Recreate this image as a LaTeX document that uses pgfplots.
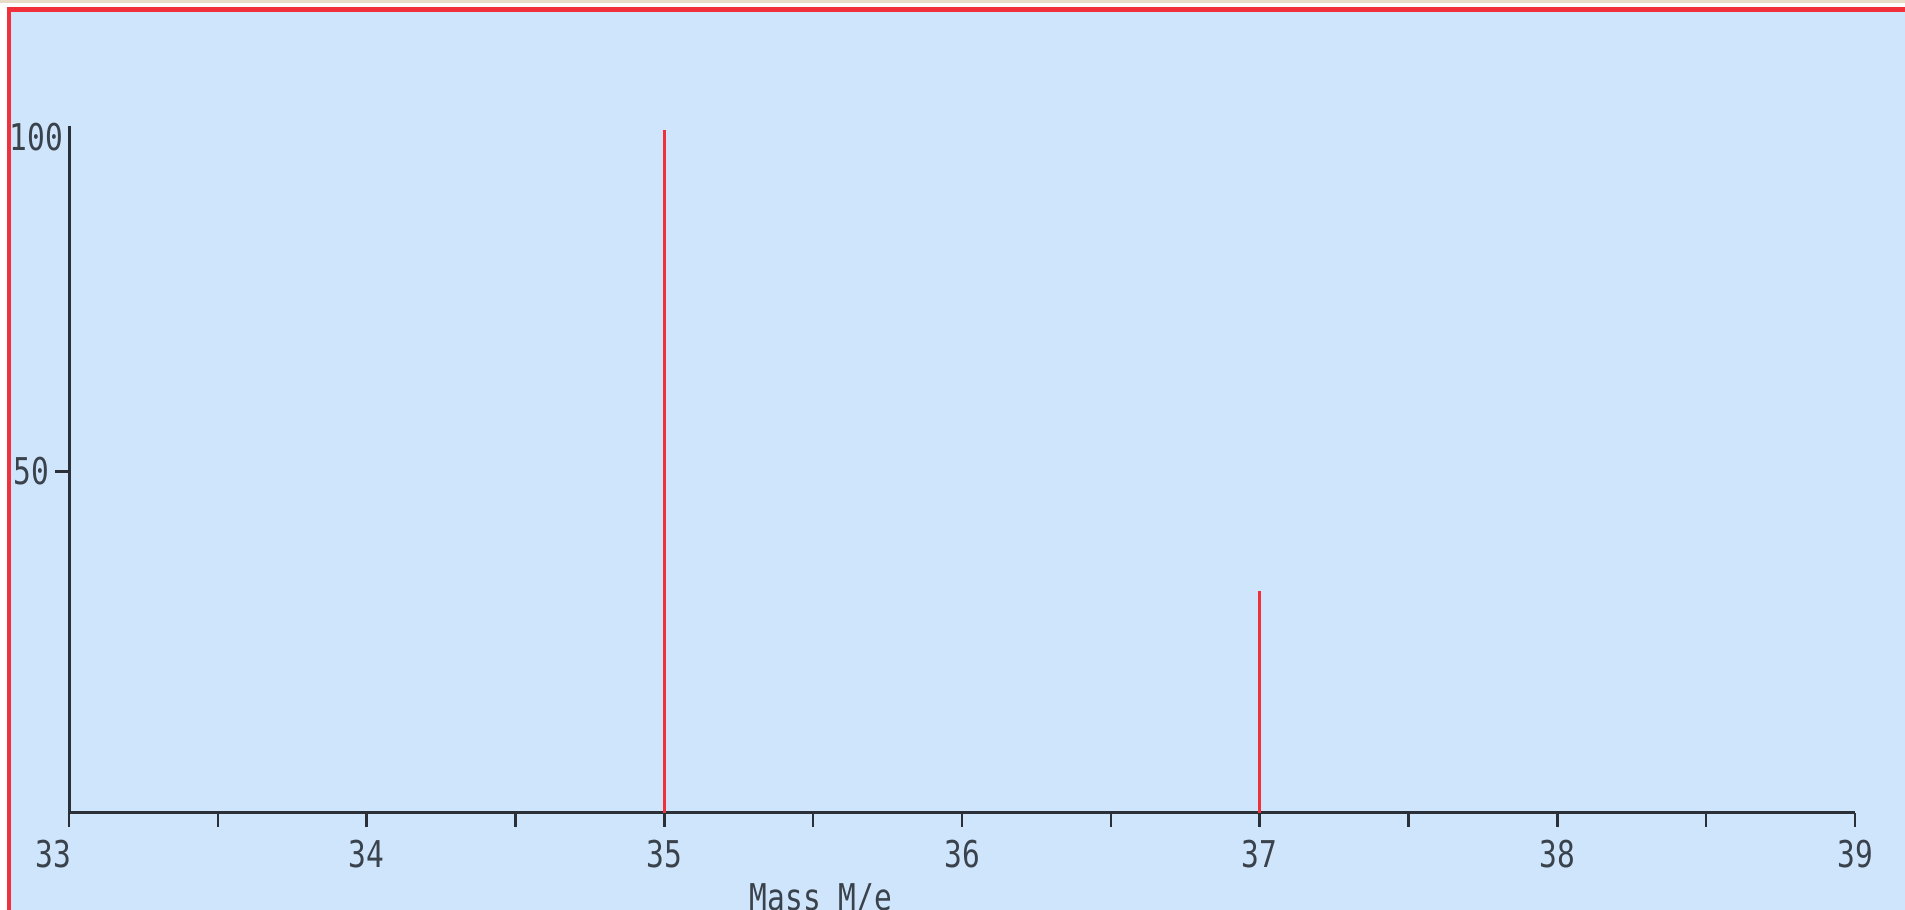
\documentclass[border=0pt]{standalone}
\usepackage{fontspec}
\setmainfont{DejaVu Sans Mono}[FakeStretch=0.8]
\usepackage{pgfplots}
\pgfplotsset{compat=1.18}
\definecolor{bgblue}{HTML}{CFE5FC}
\definecolor{brdred}{HTML}{F0303A}
\definecolor{axgray}{HTML}{2B3038}
\definecolor{txtgray}{HTML}{3A424C}
\definecolor{beige}{HTML}{E6DCC8}
\begin{document}
\begin{tikzpicture}
\useasboundingbox (0,0) rectangle (19.05cm,9.10cm);
\fill[white] (0,0) rectangle (19.05cm,9.10cm);
\fill[beige] (0,9.07cm) rectangle (19.05cm,9.10cm);
\fill[brdred] (0.07cm,-0.1cm) rectangle (19.2cm,9.03cm);
\fill[bgblue] (0.11cm,-0.1cm) rectangle (19.2cm,8.98cm);
\begin{axis}[
  at={(0.69cm,0.97cm)}, anchor=south west,
  scale only axis, width=17.86cm, height=6.87cm,
  xmin=33, xmax=39, ymin=0, ymax=100.6,
  axis x line=bottom, axis y line=left,
  axis line style={-, color=axgray, line width=0.3mm},
  /pgf/number format/assume math mode=true,
  xtick={33,34,35,36,37,38,39},
  xticklabels={{33\kern0.32cm},34,35,36,37,38,39},
  minor x tick num=1,
  ytick={50},
  extra y ticks={100},
  extra y tick style={major tick length=0pt, yticklabel style={yshift=-0.07cm}},
  tick align=outside,
  major tick length=0.14cm, minor tick length=0.14cm,
  tick style={color=axgray, line width=0.25mm},
  every tick label/.append style={font=\fontsize{10.5}{12}\selectfont, text=txtgray},
  xticklabel style={anchor=north, inner sep=0pt, yshift=-0.12cm},
  yticklabel style={anchor=east, inner sep=0pt, xshift=-0.05cm},
  xlabel={Mass M/e},
  xlabel style={at={(axis description cs:0.421,0)}, anchor=north, inner sep=0pt, yshift=-0.70cm, font=\fontsize{10.5}{12}\selectfont, text=txtgray},
  clip=false,
]
\addplot[ycomb, color=brdred, line width=0.3mm, mark=none] coordinates {(35,100) (37,32.5)};
\end{axis}
\end{tikzpicture}
\end{document}
